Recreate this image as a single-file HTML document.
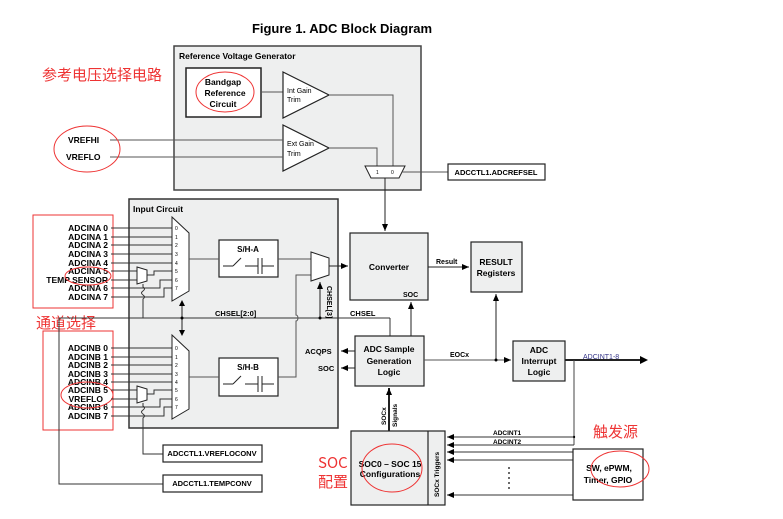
<!DOCTYPE html>
<html><head><meta charset="utf-8"><style>
html,body{margin:0;padding:0;background:#fff;}
svg{display:block;font-family:"Liberation Sans",Arial,sans-serif;}
.b{font-weight:bold;}
</style></head><body>
<svg width="783" height="519" viewBox="0 0 783 519" xmlns="http://www.w3.org/2000/svg">
<defs>
<marker id="ar" markerWidth="8" markerHeight="8" refX="7" refY="4" orient="auto" markerUnits="userSpaceOnUse"><path d="M0,1 L7,4 L0,7 Z" fill="#000"/></marker>
</defs>
<text x="342" y="33" text-anchor="middle" class="b" font-size="13">Figure 1. ADC Block Diagram</text>

<!-- Reference Voltage Generator -->
<rect x="174" y="46" width="247" height="144" fill="#eeefef" stroke="#444" stroke-width="1.5"/>
<text x="179" y="59" class="b" font-size="8.5">Reference Voltage Generator</text>
<rect x="186" y="68" width="75" height="49" fill="#fff" stroke="#222" stroke-width="1.5"/>
<text x="223" y="85" text-anchor="middle" class="b" font-size="8.5">Bandgap</text>
<text x="225" y="96" text-anchor="middle" class="b" font-size="8.5">Reference</text>
<text x="223" y="107" text-anchor="middle" class="b" font-size="8.5">Circuit</text>
<ellipse cx="225" cy="92" rx="29" ry="20" fill="none" stroke="#e33" stroke-width="1"/>
<line x1="261" y1="92" x2="283" y2="92" stroke="#555"/>
<path d="M283,72 L329,95 L283,118 Z" fill="#fff" stroke="#222" stroke-width="1.2"/>
<text x="287" y="93" font-size="7">Int Gain</text><text x="287" y="102" font-size="7">Trim</text>
<path d="M283,125 L329,148 L283,171 Z" fill="#fff" stroke="#222" stroke-width="1.2"/>
<text x="287" y="146" font-size="7">Ext Gain</text><text x="287" y="156" font-size="7">Trim</text>
<polyline points="329,95 393,95 393,166" fill="none" stroke="#555"/>
<polyline points="329,148 377,148 377,166" fill="none" stroke="#555"/>
<line x1="110" y1="140" x2="283" y2="140" stroke="#555"/>
<line x1="110" y1="157" x2="283" y2="157" stroke="#555"/>
<text x="68" y="143" class="b" font-size="8.5">VREFHI</text>
<text x="66" y="160" class="b" font-size="8.5">VREFLO</text>
<ellipse cx="87" cy="149" rx="33" ry="23" fill="none" stroke="#e33" stroke-width="1"/>
<path d="M365,166 L405,166 L399,178 L371,178 Z" fill="#fff" stroke="#222"/>
<text x="376" y="174" font-size="5">1</text><text x="391" y="174" font-size="5">0</text>
<line x1="402" y1="172" x2="448" y2="172" stroke="#555"/>
<rect x="448" y="164" width="97" height="16" fill="#fff" stroke="#222" stroke-width="1.2"/>
<text x="496" y="175" text-anchor="middle" class="b" font-size="7.5">ADCCTL1.ADCREFSEL</text>
<line x1="385" y1="178" x2="385" y2="231" stroke="#222" marker-end="url(#ar)"/>
<text x="42" y="80" font-size="15" fill="#e33" font-family="'Noto Sans CJK SC',sans-serif">参考电压选择电路</text>

<!-- Input circuit -->
<rect x="129" y="199" width="209" height="229" fill="#eeefef" stroke="#333" stroke-width="1.5"/>
<text x="133" y="212" class="b" font-size="8.5">Input Circuit</text>
<rect x="33" y="215" width="80" height="93" fill="none" stroke="#e33" stroke-width="1"/>
<rect x="43" y="331" width="70" height="99" fill="none" stroke="#e33" stroke-width="1"/>
<text x="36" y="328" font-size="15" fill="#e33" font-family="'Noto Sans CJK SC',sans-serif">通道选择</text>
<g class="b" font-size="8.5" text-anchor="end">
<text x="108" y="231">ADCINA 0</text><text x="108" y="240">ADCINA 1</text><text x="108" y="248">ADCINA 2</text>
<text x="108" y="257">ADCINA 3</text><text x="108" y="266">ADCINA 4</text><text x="108" y="274">ADCINA 5</text>
<text x="108" y="283">TEMP SENSOR</text><text x="108" y="291">ADCINA 6</text><text x="108" y="300">ADCINA 7</text>
<text x="108" y="351">ADCINB 0</text><text x="108" y="360">ADCINB 1</text><text x="108" y="368">ADCINB 2</text>
<text x="108" y="377">ADCINB 3</text><text x="108" y="385">ADCINB 4</text><text x="108" y="393">ADCINB 5</text>
<text x="103" y="402">VREFLO</text><text x="108" y="410">ADCINB 6</text><text x="108" y="419">ADCINB 7</text>
</g>
<ellipse cx="88" cy="276" rx="23" ry="9" fill="none" stroke="#e33" stroke-width="1"/>
<ellipse cx="87" cy="395" rx="26" ry="13" fill="none" stroke="#e33" stroke-width="1"/>
<g stroke="#333" fill="none">
<line x1="111" y1="228" x2="172" y2="228"/><line x1="111" y1="237" x2="172" y2="237"/><line x1="111" y1="245" x2="172" y2="245"/>
<line x1="111" y1="254" x2="172" y2="254"/><line x1="111" y1="263" x2="172" y2="263"/>
<line x1="111" y1="271" x2="137" y2="271"/><line x1="111" y1="280" x2="137" y2="280"/>
<polyline points="147,275 154,275 154,271 172,271"/>
<polyline points="111,288 160,288 160,280 172,280"/>
<polyline points="111,297 164,297 164,288 172,288"/>
<line x1="111" y1="348" x2="172" y2="348"/><line x1="111" y1="357" x2="172" y2="357"/><line x1="111" y1="365" x2="172" y2="365"/>
<line x1="111" y1="374" x2="172" y2="374"/><line x1="111" y1="382" x2="172" y2="382"/>
<line x1="111" y1="390" x2="137" y2="390"/><line x1="111" y1="399" x2="137" y2="399"/>
<polyline points="147,394 154,394 154,390 172,390"/>
<polyline points="111,407 160,407 160,399 172,399"/>
<polyline points="111,416 164,416 164,407 172,407"/>
<path d="M143,284 L143,287 q3,2 0,4 q-3,2 0,4 q3,2 0,4 L143,318 L59,318 L59,484 L163,484"/>
<path d="M143,403 L143,406 q3,2 0,4 q-3,2 0,4 q3,2 0,4 L143,454 L163,454"/>
<line x1="143" y1="318" x2="338" y2="318"/>
<line x1="338" y1="318" x2="390" y2="318"/>
<line x1="390" y1="318" x2="390" y2="336"/>
</g>
<path d="M172,217 L189,233 L189,291 L172,301 Z" fill="#fff" stroke="#222"/>
<path d="M172,335 L189,351 L189,409 L172,419 Z" fill="#fff" stroke="#222"/>
<g font-size="5">
<text x="175" y="230">0</text><text x="175" y="239">1</text><text x="175" y="247">2</text><text x="175" y="256">3</text><text x="175" y="265">4</text><text x="175" y="273">5</text><text x="175" y="282">6</text><text x="175" y="290">7</text>
<text x="175" y="350">0</text><text x="175" y="359">1</text><text x="175" y="367">2</text><text x="175" y="376">3</text><text x="175" y="384">4</text><text x="175" y="392">5</text><text x="175" y="401">6</text><text x="175" y="409">7</text>
</g>
<path d="M137,267 L147,270 L147,281 L137,284 Z" fill="#fff" stroke="#222"/>
<path d="M137,386 L147,389 L147,400 L137,403 Z" fill="#fff" stroke="#222"/>
<line x1="182" y1="303" x2="182" y2="333" stroke="#222"/>
<path d="M182,300 l-3,6 h6z M182,336 l-3,-6 h6z" fill="#000"/>
<circle cx="182" cy="318" r="1.5" fill="#000"/>
<!-- S/H -->
<rect x="219" y="240" width="59" height="37" fill="#fff" stroke="#222" stroke-width="1.2"/>
<text x="248" y="252" text-anchor="middle" class="b" font-size="8">S/H-A</text>
<g stroke="#222" fill="none"><line x1="223" y1="266" x2="233" y2="266"/><line x1="233" y1="266" x2="241" y2="258"/><line x1="245" y1="266" x2="258" y2="266"/><line x1="258" y1="258" x2="258" y2="274"/><line x1="262" y1="258" x2="262" y2="274"/><line x1="262" y1="266" x2="274" y2="266"/></g>
<rect x="219" y="358" width="59" height="38" fill="#fff" stroke="#222" stroke-width="1.2"/>
<text x="248" y="370" text-anchor="middle" class="b" font-size="8">S/H-B</text>
<g stroke="#222" fill="none"><line x1="223" y1="384" x2="233" y2="384"/><line x1="233" y1="384" x2="241" y2="376"/><line x1="245" y1="384" x2="258" y2="384"/><line x1="258" y1="376" x2="258" y2="392"/><line x1="262" y1="376" x2="262" y2="392"/><line x1="262" y1="384" x2="274" y2="384"/></g>
<line x1="189" y1="259" x2="219" y2="259" stroke="#555"/>
<line x1="189" y1="377" x2="219" y2="377" stroke="#555"/>
<line x1="278" y1="259" x2="311" y2="259" stroke="#555"/>
<path d="M278,377 L296,377 L296,321 a2,3 0 0 0 0,-6 L296,275 L311,275" fill="none" stroke="#555"/>
<path d="M311,252 L329,258 L329,275 L311,281 Z" fill="#fff" stroke="#222"/>
<line x1="320" y1="318" x2="320" y2="282" stroke="#222" marker-end="url(#ar)"/>
<circle cx="320" cy="318" r="1.5" fill="#000"/>
<text transform="translate(327,286) rotate(90)" class="b" font-size="7">CHSEL[3]</text>
<line x1="329" y1="266" x2="348" y2="266" stroke="#222" marker-end="url(#ar)"/>
<text x="215" y="316" class="b" font-size="7.5">CHSEL[2:0]</text>
<text x="350" y="316" class="b" font-size="7.5">CHSEL</text>
<text x="305" y="354" class="b" font-size="7.5">ACQPS</text>
<text x="318" y="371" class="b" font-size="7.5">SOC</text>
<line x1="355" y1="351" x2="341" y2="351" stroke="#222" marker-end="url(#ar)"/>
<line x1="355" y1="368" x2="341" y2="368" stroke="#222" marker-end="url(#ar)"/>

<!-- right side -->
<rect x="350" y="233" width="78" height="67" fill="#eeefef" stroke="#222" stroke-width="1.2"/>
<text x="389" y="270" text-anchor="middle" class="b" font-size="8.5">Converter</text>
<text x="403" y="297" class="b" font-size="7">SOC</text>
<line x1="428" y1="267" x2="469" y2="267" stroke="#222" marker-end="url(#ar)"/>
<text x="436" y="264" class="b" font-size="7">Result</text>
<rect x="471" y="242" width="51" height="50" fill="#eeefef" stroke="#222" stroke-width="1.2"/>
<text x="496" y="265" text-anchor="middle" class="b" font-size="8.5">RESULT</text>
<text x="496" y="276" text-anchor="middle" class="b" font-size="8.5">Registers</text>
<rect x="355" y="336" width="69" height="50" fill="#eeefef" stroke="#222" stroke-width="1.2"/>
<text x="389" y="352" text-anchor="middle" class="b" font-size="8.5">ADC Sample</text>
<text x="389" y="364" text-anchor="middle" class="b" font-size="8.5">Generation</text>
<text x="389" y="375" text-anchor="middle" class="b" font-size="8.5">Logic</text>
<line x1="411" y1="336" x2="411" y2="302" stroke="#222" marker-end="url(#ar)"/>
<line x1="424" y1="360" x2="511" y2="360" stroke="#555" marker-end="url(#ar)"/>
<text x="450" y="357" class="b" font-size="7">EOCx</text>
<line x1="496" y1="360" x2="496" y2="294" stroke="#222" marker-end="url(#ar)"/>
<circle cx="496" cy="360" r="1.5" fill="#000"/>
<rect x="513" y="341" width="52" height="40" fill="#eeefef" stroke="#222" stroke-width="1.2"/>
<text x="539" y="353" text-anchor="middle" class="b" font-size="8.5">ADC</text>
<text x="539" y="364" text-anchor="middle" class="b" font-size="8.5">Interrupt</text>
<text x="539" y="375" text-anchor="middle" class="b" font-size="8.5">Logic</text>
<line x1="565" y1="360" x2="640" y2="360" stroke="#222" stroke-width="2"/>
<path d="M640,356 L640,364 L648,360 Z" fill="#000"/>
<text x="583" y="359" font-size="7" fill="#338">ADCINT1-8</text>
<line x1="574" y1="360" x2="574" y2="445" stroke="#444"/>
<circle cx="574" cy="437" r="1.2" fill="#000"/>
<!-- SOC config -->
<rect x="351" y="431" width="94" height="74" fill="#eeefef" stroke="#222" stroke-width="1.2"/>
<line x1="428" y1="431" x2="428" y2="505" stroke="#222" stroke-width="1.2"/>
<text transform="translate(439,497) rotate(-90)" class="b" font-size="6.5">SOCx Triggers</text>
<text x="390" y="467" text-anchor="middle" class="b" font-size="8.5">SOC0 – SOC 15</text>
<text x="390" y="477" text-anchor="middle" class="b" font-size="8.5">Configurations</text>
<ellipse cx="392" cy="468" rx="30" ry="24" fill="none" stroke="#e33" stroke-width="1"/>
<line x1="389" y1="431" x2="389" y2="388" stroke="#222" stroke-width="2" marker-end="url(#ar)"/>
<text transform="translate(386,425) rotate(-90)" class="b" font-size="6.5">SOCx</text>
<text transform="translate(397,427) rotate(-90)" class="b" font-size="6.5">Signals</text>
<g stroke="#333">
<line x1="574" y1="437" x2="447" y2="437" marker-end="url(#ar)"/>
<line x1="574" y1="445" x2="447" y2="445" marker-end="url(#ar)"/>
<line x1="573" y1="452" x2="447" y2="452" marker-end="url(#ar)"/>
<line x1="573" y1="460" x2="447" y2="460" marker-end="url(#ar)"/>
<line x1="573" y1="495" x2="447" y2="495" marker-end="url(#ar)"/>
</g>
<text x="493" y="435" class="b" font-size="6.5">ADCINT1</text>
<text x="493" y="444" class="b" font-size="6.5">ADCINT2</text>
<g fill="#000"><circle cx="509" cy="468" r="0.9"/><circle cx="509" cy="473" r="0.9"/><circle cx="509" cy="478" r="0.9"/><circle cx="509" cy="483" r="0.9"/><circle cx="509" cy="488" r="0.9"/></g>
<rect x="573" y="449" width="70" height="51" fill="#fff" stroke="#222" stroke-width="1.2"/>
<text x="609" y="471" text-anchor="middle" class="b" font-size="8.5">SW, ePWM,</text>
<text x="608" y="483" text-anchor="middle" class="b" font-size="8.5">Timer, GPIO</text>
<ellipse cx="620" cy="469" rx="29" ry="18" fill="none" stroke="#e33" stroke-width="1"/>
<text x="593" y="437" font-size="15" fill="#e33" font-family="'Noto Sans CJK SC',sans-serif">触发源</text>
<text x="318" y="468" font-size="15" fill="#e33" font-family="'Noto Sans CJK SC',sans-serif">SOC</text>
<text x="318" y="487" font-size="15" fill="#e33" font-family="'Noto Sans CJK SC',sans-serif">配置</text>
<!-- conv boxes -->
<rect x="163" y="445" width="99" height="17" fill="#fff" stroke="#222" stroke-width="1.2"/>
<text x="212" y="456" text-anchor="middle" class="b" font-size="7.5">ADCCTL1.VREFLOCONV</text>
<rect x="163" y="475" width="99" height="17" fill="#fff" stroke="#222" stroke-width="1.2"/>
<text x="212" y="486" text-anchor="middle" class="b" font-size="7.5">ADCCTL1.TEMPCONV</text>
</svg>
</body></html>
